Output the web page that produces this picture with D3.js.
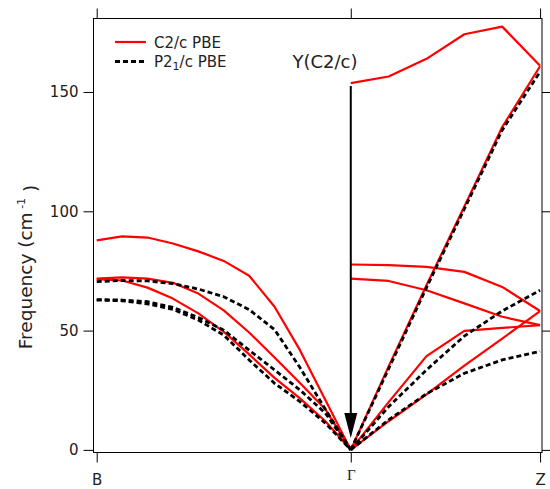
<!DOCTYPE html>
<html>
<head>
<meta charset="utf-8">
<script src="https://cdn.jsdelivr.net/npm/d3@7"></script>
<style>
    body { margin: 0; background: #fff; }
    text { font-family: "DejaVu Sans", sans-serif; fill: #222; }
</style>
</head>
<body>
<svg id="chart" width="550" height="489"></svg>
<script>
// k-path positions, B -> Gamma -> Z
var kLeft = [0, 0.1, 0.2, 0.3, 0.4, 0.5, 0.6, 0.7, 0.8, 0.9, 1.0];
var kRight = [1.0, 1.149, 1.298, 1.447, 1.596, 1.745];
var kTicks = [0, 1, 1.745];
var kLabels = ["B", "\u0393", "Z"];
var yTicks = [0, 50, 100, 150];

// C2/c PBE, B -> Gamma
var c2cLeftA = [87.8, 89.5, 89.0, 86.5, 83.2, 79.2, 73.0, 60.0, 41.8, 20.9, 0];
var c2cLeftB = [71.8, 72.3, 71.8, 70.0, 65.5, 58.5, 49.2, 38.7, 28.0, 17.0, 0];
var c2cLeftC = [71.6, 71.0, 68.0, 63.4, 57.2, 49.5, 40.0, 30.2, 21.6, 12.0, 0];

// C2/c PBE, Gamma -> Z
var c2cRightA = [153.7, 156.5, 163.9, 174.2, 177.4, 161.0];
var c2cRightB = [77.7, 77.4, 76.7, 74.6, 68.3, 58.2];
var c2cRightC = [71.8, 70.8, 66.9, 61.4, 55.8, 52.3];
var c2cRightD = [0, 20.0, 39.3, 49.9, 51.1, 52.3];
var c2cRightE = [0, 12.0, 23.3, 35.3, 46.6, 58.2];
var c2cRightF = [0, 35.0, 69.0, 102.0, 135.3, 160.8];

// P2_1/c PBE, B -> Gamma
var p21cLeftA = [70.5, 71.0, 70.8, 69.7, 67.4, 64.2, 58.8, 50.4, 34.5, 17.0, 0];
var p21cLeftB = [63.0, 62.8, 62.1, 59.7, 55.5, 50.2, 41.8, 33.5, 25.1, 15.4, 0];
var p21cLeftC = [62.8, 62.5, 61.2, 58.9, 54.4, 48.1, 37.7, 27.9, 20.2, 11.2, 0];

// P2_1/c PBE, Gamma -> Z
var p21cRightA = [0, 34.0, 68.0, 101.0, 134.0, 158.5];
var p21cRightB = [0, 18.1, 33.5, 47.7, 58.2, 66.9];
var p21cRightC = [0, 12.6, 23.5, 32.1, 37.7, 41.3];

// annotation arrow at Gamma: Y(C2/c) folded onto Gamma
var arrowK = 1.0;
var arrowFrom = 152.5;
var arrowTo = 5.0;

var svg = d3.select("#chart");

var margin = { top: 18.5, right: 8, bottom: 36.5, left: 93.5 };
var W = 550, H = 489;

var x = d3.scaleLinear()
    .domain([-0.0126, 1.7526])
    .range([margin.left, W - margin.right]);

var y = d3.scaleLinear()
    .domain([-1.1, 180.8])
    .range([H - margin.bottom, margin.top]);

var line = d3.line()
    .x(function (d) { return x(d[0]); })
    .y(function (d) { return y(d[1]); });

function pairs(ks, vals) {
    return ks.map(function (k, i) { return [k, vals[i]]; });
}

// left ticks with labels
var yAxis = svg.append("g")
    .attr("transform", "translate(" + margin.left + ",0)")
    .call(d3.axisLeft(y).tickValues(yTicks).tickSize(10).tickPadding(5));
yAxis.select(".domain").remove();
yAxis.selectAll("text").style("font-size", "15px").attr("fill", "#222");

// right ticks, no labels
var yAxisR = svg.append("g")
    .attr("transform", "translate(" + (W - margin.right) + ",0)")
    .call(d3.axisRight(y).tickValues(yTicks).tickSize(10).tickFormat(""));
yAxisR.select(".domain").remove();

// top ticks
var xAxisT = svg.append("g")
    .attr("transform", "translate(0," + margin.top + ")")
    .call(d3.axisTop(x).tickValues(kTicks).tickSize(10).tickFormat(""));
xAxisT.select(".domain").remove();

// bottom ticks with labels
var xAxis = svg.append("g")
    .attr("transform", "translate(0," + (H - margin.bottom) + ")")
    .call(d3.axisBottom(x).tickValues(kTicks).tickSize(10)
        .tickFormat(function (d, i) { return kLabels[i]; }));
xAxis.select(".domain").remove();
xAxis.selectAll("text")
    .attr("dy", null)
    .attr("y", function (d, i) { return i === 1 ? 27 : 32; })
    .style("font-size", "15px")
    .style("font-family", function (d, i) {
        return i === 1 ? "'Liberation Serif', serif" : "'DejaVu Sans', sans-serif";
    })
    .attr("fill", "#222");

// frame
svg.append("rect")
    .attr("x", margin.left)
    .attr("y", margin.top)
    .attr("width", W - margin.right - margin.left)
    .attr("height", H - margin.bottom - margin.top)
    .attr("fill", "none")
    .attr("stroke", "#000")
    .attr("stroke-width", 1);

// C2/c curves (red, solid)
var redLeft = [c2cLeftA, c2cLeftB, c2cLeftC];
var redRight = [c2cRightA, c2cRightB, c2cRightC, c2cRightD, c2cRightE, c2cRightF];
var redPaths = redLeft.map(function (v) { return pairs(kLeft, v); })
    .concat(redRight.map(function (v) { return pairs(kRight, v); }));

svg.append("g").selectAll("path")
    .data(redPaths)
    .enter().append("path")
    .attr("fill", "none")
    .attr("stroke", "#ff0000")
    .attr("stroke-width", 2.2)
    .attr("stroke-linejoin", "round")
    .attr("d", line);

// P2_1/c curves (black, dashed)
var blackLeft = [p21cLeftA, p21cLeftB, p21cLeftC];
var blackRight = [p21cRightA, p21cRightB, p21cRightC];
var blackPaths = blackLeft.map(function (v) { return pairs(kLeft, v); })
    .concat(blackRight.map(function (v) { return pairs(kRight, v); }));

svg.append("g").selectAll("path")
    .data(blackPaths)
    .enter().append("path")
    .attr("fill", "none")
    .attr("stroke", "#000")
    .attr("stroke-width", 2.8)
    .attr("stroke-dasharray", "5,3")
    .attr("d", line);

// arrow Y -> Gamma
var ax = x(arrowK), ay0 = y(arrowFrom), ay1 = y(arrowTo);
svg.append("line")
    .attr("x1", ax).attr("x2", ax)
    .attr("y1", ay0).attr("y2", ay1 - 20)
    .attr("stroke", "#000")
    .attr("stroke-width", 2);
svg.append("path")
    .attr("d", "M" + (ax - 6.5) + "," + (ay1 - 25) + "L" + (ax + 6.5) + "," + (ay1 - 25) +
        "L" + ax + "," + ay1 + "Z")
    .attr("fill", "#000");

svg.append("text")
    .attr("x", 325)
    .attr("y", 68)
    .attr("text-anchor", "middle")
    .style("font-size", "18px")
    .text("Y(C2/c)");

// y axis title
var yTitle = svg.append("text")
    .attr("transform", "translate(32,267) rotate(-90)")
    .attr("text-anchor", "middle")
    .style("font-size", "18.5px");
yTitle.append("tspan").text("Frequency (cm");
yTitle.append("tspan").attr("dy", "-0.6em").style("font-size", "11px").text(" -1");
yTitle.append("tspan").attr("dy", "0.6em").text("  )");

// legend
var legend = svg.append("g");
legend.append("line")
    .attr("x1", 115).attr("x2", 146).attr("y1", 42).attr("y2", 42)
    .attr("stroke", "#ff0000").attr("stroke-width", 2.2);
legend.append("text")
    .attr("x", 154).attr("y", 47.5)
    .style("font-size", "15px")
    .text("C2/c PBE");
legend.append("line")
    .attr("x1", 115).attr("x2", 146).attr("y1", 61.5).attr("y2", 61.5)
    .attr("stroke", "#000").attr("stroke-width", 2.8)
    .attr("stroke-dasharray", "5,3");
var lt = legend.append("text")
    .attr("x", 154).attr("y", 67)
    .style("font-size", "15px");
lt.append("tspan").text("P2");
lt.append("tspan").attr("dy", "0.3em").style("font-size", "11px").text("1");
lt.append("tspan").attr("dy", "-0.22em").text("/c PBE");
</script>
</body>
</html>
